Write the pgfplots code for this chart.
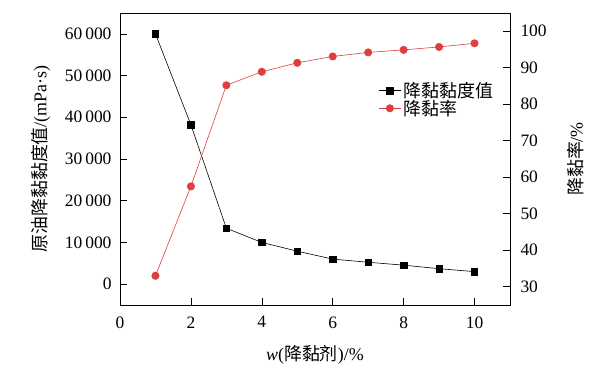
\documentclass[border=0pt]{standalone}
\usepackage{fontspec}
\setmainfont{Liberation Serif}
\newfontfamily\cjk{Noto Sans CJK SC}
\usepackage{pgfplots}
\pgfplotsset{compat=1.18}
\definecolor{myred}{RGB}{222,62,62}
\begin{document}
\begin{tikzpicture}
\pgfplotsset{
  every axis/.append style={font=\fontsize{17.5}{20}\selectfont},
  every axis label/.append style={font=\fontsize{18}{21}\selectfont},
  /pgf/number format/assume math mode=true,
}
\begin{axis}[
  name=ax,
  scale only axis, width=390bp, height=292bp,
  xmin=0, xmax=11, ymin=-5000, ymax=65000,
  xtick={0,2,4,6,8,10},
  ytick={0,10000,20000,30000,40000,50000,60000},
  scaled y ticks=false,
  yticklabel style={/pgf/number format/1000 sep={\,}, xshift=-5bp},
  xticklabel style={yshift=-8bp},
  xtick pos=bottom, ytick pos=left,
  tick align=inside,
  major tick length=7bp,
  tick style={black, line width=0.6pt},
  axis line style={line width=0.8pt},
  xlabel={\textit{w}({\cjk 降黏剂})/\%},
  xlabel style={yshift=-10bp},
  ylabel={{\cjk 原油降黏黏度值}/(mPa·s)},
  ylabel style={yshift=8bp},
]
\addplot[black, line width=0.6pt, mark=square*, mark size=3.2bp] coordinates {
(1,60000) (2,38200) (3,13400) (4,10000) (5,7900) (6,6000) (7,5250) (8,4550) (9,3700) (10,3000)
};
\end{axis}
\begin{axis}[
  scale only axis, width=390bp, height=292bp,
  xmin=0, xmax=11, ymin=25, ymax=105,
  axis x line=none,
  axis y line*=right,
  ytick={30,40,50,60,70,80,90,100},
  yticklabel style={xshift=7bp},
  tick align=inside,
  major tick length=7bp,
  tick style={black, line width=0.6pt},
  axis line style={line width=0.8pt},
  ylabel={{\cjk 降黏率}/\%},
  ylabel style={yshift=-14bp},
  legend style={draw=none, fill=none, at={(0.654,0.777)}, anchor=north west,
    font=\fontsize{18}{21}\selectfont\cjk, row sep=-3bp},
  legend cell align=left,
  legend image code/.code={\draw[mark repeat=2,mark phase=2] plot coordinates {(0cm,0cm)(0.4cm,0cm)(0.8cm,0cm)};},
]
\addlegendimage{black, line width=0.6pt, mark=square*, mark size=3.2bp}
\addlegendentry{降黏黏度值}
\addplot[myred, line width=0.6pt, mark=*, mark size=3.7bp] coordinates {
(1,33.0) (2,57.5) (3,85.2) (4,88.9) (5,91.35) (6,93.1) (7,94.2) (8,94.9) (9,95.7) (10,96.7)
};
\addlegendentry{降黏率}
\end{axis}
\path[use as bounding box] ([xshift=-120bp,yshift=-67bp]ax.south west) rectangle ([xshift=87bp,yshift=13bp]ax.north east);
\end{tikzpicture}
\end{document}
